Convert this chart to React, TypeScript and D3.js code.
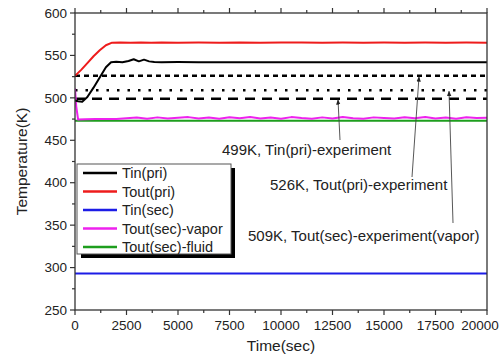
import { useRef, useEffect } from 'react';
import * as d3 from 'd3';

// simulated curves (time in s, temperature in K)
const tinPriTime = [0, 150, 350, 600, 900, 1200, 1500, 1750, 2000, 2300, 2600, 2850, 3100, 3350, 3600, 3850, 4200, 5000, 6000, 7000, 8000, 9000, 10000, 11000, 12000, 13000, 14000, 15000, 16000, 17000, 18000, 19000, 20000];
const tinPriTemp = [497, 496, 495.5, 501, 512, 524, 536, 542, 542.5, 542, 543.5, 545.5, 543, 545, 543, 542.3, 542, 542.2, 542, 542.1, 541.9, 542, 542.1, 542, 541.9, 542, 542.1, 542, 541.9, 542, 542.1, 542, 542];

const toutPriTime = [0, 300, 600, 900, 1200, 1500, 1800, 2200, 2700, 3200, 3700, 4200, 5000, 6000, 7000, 8000, 9000, 10000, 11000, 12000, 13000, 14000, 15000, 16000, 17000, 18000, 19000, 20000];
const toutPriTemp = [526, 533, 541, 549, 556, 562, 565, 565.2, 564.8, 565.3, 564.9, 565.2, 564.8, 565.1, 565, 565.3, 564.8, 565.1, 565.2, 564.9, 565.1, 565, 565.2, 564.9, 565.1, 565, 565.2, 565];

const tinSecTime = [0, 20000];
const tinSecTemp = [293, 293];

const vaporTime = [0, 60, 150, 500, 1000, 1500, 2000, 2500, 3000, 3500, 4000, 4500, 5000, 5500, 6000, 6500, 7000, 7500, 8000, 8500, 9000, 9500, 10000, 10500, 11000, 11500, 12000, 12500, 13000, 13500, 14000, 14500, 15000, 15500, 16000, 16500, 17000, 17500, 18000, 18500, 19000, 19500, 20000];
const vaporTemp = [511, 490, 474.5, 474.8, 475, 475.2, 475, 476, 476.8, 475.5, 477, 475.8, 476.5, 477.3, 475.6, 476.8, 475.4, 477.2, 476, 477.5, 475.7, 476.9, 475.5, 477.3, 476.2, 475.4, 477, 475.8, 477.4, 476.1, 475.5, 477, 476.4, 475.6, 477.2, 476, 477.4, 475.7, 476.8, 475.5, 477.1, 476.2, 476.6];

const fluidTime = [0, 20000];
const fluidTemp = [473, 473];

const seriesNames = ['Tin(pri)', 'Tout(pri)', 'Tin(sec)', 'Tout(sec)-vapor', 'Tout(sec)-fluid'];
const seriesColors = ['#000000', '#ee1c1c', '#1c1ce6', '#ee22ee', '#1e9e1e'];

// experiment reference values (K)
const expValues = [499, 526, 509];
const expLabels = ['499K, Tin(pri)-experiment', '526K, Tout(pri)-experiment', '509K, Tout(sec)-experiment(vapor)'];

const xTicks = [0, 2500, 5000, 7500, 10000, 12500, 15000, 17500, 20000];
const yTicks = [250, 300, 350, 400, 450, 500, 550, 600];

function App() {
  const svgRef = useRef<SVGSVGElement>(null);

  useEffect(() => {
    const svg = d3.select(svgRef.current);
    svg.selectAll("*").remove();

    const left = 75, right = 487, top = 13, bottom = 310;
    const font = "Liberation Sans, Arial, sans-serif";
    const axisColor = "#333";

    const x = d3.scaleLinear().domain([0, 20000]).range([left, right]);
    const y = d3.scaleLinear().domain([250, 600]).range([bottom, top]);

    const defs = svg.append("defs");
    defs.append("marker").attr("id", "arr")
      .attr("viewBox", "0 0 10 10").attr("refX", 9).attr("refY", 5)
      .attr("markerWidth", 6).attr("markerHeight", 6).attr("orient", "auto")
      .append("path").attr("d", "M0,1L10,5L0,9z").attr("fill", "#222");
    defs.append("clipPath").attr("id", "plot")
      .append("rect").attr("x", left).attr("y", top).attr("width", right - left).attr("height", bottom - top);

    // experiment lines
    const dashes = ["10,7", "5,4", "2.5,8"];
    expValues.forEach((v, i) => {
      svg.append("line")
        .attr("x1", x(0)).attr("x2", x(20000))
        .attr("y1", y(v)).attr("y2", y(v))
        .attr("stroke", "#000").attr("stroke-width", 2.5)
        .attr("stroke-dasharray", dashes[i]);
    });

    // simulated series
    const line = d3.line<[number, number]>()
      .x(d => x(d[0])).y(d => y(d[1]));
    const series: [number[], number[]][] = [
      [tinSecTime, tinSecTemp],
      [fluidTime, fluidTemp],
      [vaporTime, vaporTemp],
      [toutPriTime, toutPriTemp],
      [tinPriTime, tinPriTemp],
    ];
    const order = [2, 4, 3, 1, 0];
    const g = svg.append("g").attr("clip-path", "url(#plot)");
    series.forEach(([t, v], i) => {
      const pts = t.map((tt, k) => [tt, v[k]] as [number, number]);
      g.append("path").attr("d", line(pts))
        .attr("fill", "none")
        .attr("stroke", seriesColors[order[i]])
        .attr("stroke-width", 2)
        .attr("stroke-linejoin", "round");
    });

    // frame
    svg.append("rect").attr("x", left).attr("y", top)
      .attr("width", right - left).attr("height", bottom - top)
      .attr("fill", "none").attr("stroke", axisColor).attr("stroke-width", 1.3);

    // x ticks (top and bottom, outward)
    const xMinor = d3.range(1250, 20000, 2500);
    xTicks.forEach(t => {
      svg.append("line").attr("x1", x(t)).attr("x2", x(t)).attr("y1", bottom).attr("y2", bottom + 5).attr("stroke", axisColor).attr("stroke-width", 1.2);
      svg.append("line").attr("x1", x(t)).attr("x2", x(t)).attr("y1", top).attr("y2", top - 5).attr("stroke", axisColor).attr("stroke-width", 1.2);
      svg.append("text").attr("x", Math.min(x(t), 480)).attr("y", 330)
        .attr("text-anchor", "middle").attr("font-family", font).attr("font-size", 13.5).attr("fill", "#222")
        .text(t);
    });
    xMinor.forEach(t => {
      svg.append("line").attr("x1", x(t)).attr("x2", x(t)).attr("y1", bottom).attr("y2", bottom + 3).attr("stroke", axisColor).attr("stroke-width", 1.2);
      svg.append("line").attr("x1", x(t)).attr("x2", x(t)).attr("y1", top).attr("y2", top - 3).attr("stroke", axisColor).attr("stroke-width", 1.2);
    });

    // y ticks (left, outward)
    yTicks.forEach(v => {
      svg.append("line").attr("x1", left).attr("x2", left - 5).attr("y1", y(v)).attr("y2", y(v)).attr("stroke", axisColor).attr("stroke-width", 1.2);
      svg.append("text").attr("x", left - 8).attr("y", y(v)).attr("dy", "0.35em")
        .attr("text-anchor", "end").attr("font-family", font).attr("font-size", 13.5).attr("fill", "#222")
        .text(v);
    });
    d3.range(275, 600, 50).forEach(v => {
      svg.append("line").attr("x1", left).attr("x2", left - 3).attr("y1", y(v)).attr("y2", y(v)).attr("stroke", axisColor).attr("stroke-width", 1.2);
    });

    // axis titles
    svg.append("text").attr("x", (left + right) / 2).attr("y", 351)
      .attr("text-anchor", "middle").attr("font-family", font).attr("font-size", 15.5).attr("fill", "#222")
      .text("Time(sec)");
    svg.append("text").attr("transform", `translate(27,${(top + bottom) / 2}) rotate(-90)`)
      .attr("text-anchor", "middle").attr("font-family", font).attr("font-size", 15.5).attr("fill", "#222")
      .text("Temperature(K)");

    // annotations with arrows
    const ann = [
      { tx: 222, ty: 155, from: [340, 140], to: [338, y(499) + 1] },
      { tx: 270, ty: 190, from: [412, 177], to: [419, y(526) + 1] },
      { tx: 248, ty: 241, from: [453, 223], to: [449, y(509) + 1] },
    ];
    ann.forEach((a, i) => {
      svg.append("line").attr("x1", a.from[0]).attr("y1", a.from[1])
        .attr("x2", a.to[0]).attr("y2", a.to[1])
        .attr("stroke", "#444").attr("stroke-width", 0.9)
        .attr("marker-end", "url(#arr)");
      svg.append("text").attr("x", a.tx).attr("y", a.ty)
        .attr("font-family", font).attr("font-size", 15).attr("fill", "#222")
        .text(expLabels[i]);
    });

    // legend
    const lx = 77, ly = 164, lw = 154, lh = 90;
    svg.append("rect").attr("x", lx + 4).attr("y", ly + 4).attr("width", lw).attr("height", lh).attr("fill", "#000");
    svg.append("rect").attr("x", lx).attr("y", ly).attr("width", lw).attr("height", lh)
      .attr("fill", "#fff").attr("stroke", "#555").attr("stroke-width", 1);
    seriesNames.forEach((name, i) => {
      const yy = 173 + i * 18.5;
      svg.append("line").attr("x1", 83).attr("x2", 117).attr("y1", yy).attr("y2", yy)
        .attr("stroke", seriesColors[i]).attr("stroke-width", 2.5);
      svg.append("text").attr("x", 122).attr("y", yy).attr("dy", "0.36em")
        .attr("font-family", font).attr("font-size", 14.5).attr("fill", "#222")
        .text(name);
    });
  }, []);

  return <svg ref={svgRef} width={503} height={362} style={{ position: "absolute", left: 0, top: 0, background: "#fff" }}></svg>;
}

export default App;
